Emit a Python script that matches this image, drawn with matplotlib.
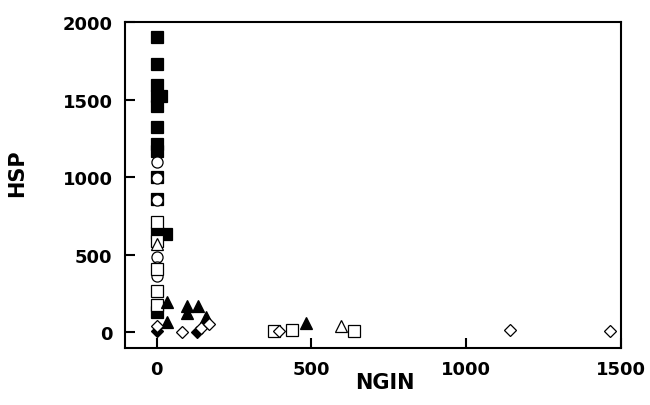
import matplotlib
matplotlib.use("Agg")
import matplotlib.pyplot as plt

# --- data ---
fsq_x = [0, 0, 0, 14, 0, 0, 0, 0, 0, 0, 0, 0, 31, 0]
fsq_y = [1901, 1729, 1594, 1524, 1524, 1460, 1321, 1213, 1170, 1000, 860, 640, 633, 129]

ocirc_x = [0, 0, 0, 0, 0, 0]
ocirc_y = [1095, 992, 855, 483, 419, 365]

osq_x = [0, 0, 0, 0, 0, 378, 438, 637]
osq_y = [709, 590, 410, 268, 176, 10, 17, 10]

otri_x = [0, 597]
otri_y = [570, 43]

ftri_x = [33, 98, 135, 98, 160, 33, 484]
ftri_y = [197, 168, 168, 124, 97, 64, 60]

fdia_x = [0, 130]
fdia_y = [6, 0]

odia_x = [0, 82, 144, 168, 394, 1143, 1463]
odia_y = [40, 0, 26, 53, 10, 17, 6]

x_ticks = [0, 500, 1000, 1500]
y_ticks = [0, 500, 1000, 1500, 2000]

plt.rcParams['font.family'] = ['DejaVu Sans']
fig = plt.figure(figsize=(6.5, 4.06), dpi=100)
ax = fig.add_axes([0.1923, 0.1404, 0.7631, 0.8029])

ms = 8
lw = 0.9
ax.plot(fsq_x, fsq_y, 's', ms=ms, mfc='black', mec='black', mew=lw, ls='none')
ax.plot(ocirc_x, ocirc_y, 'o', ms=ms, mfc='white', mec='black', mew=lw, ls='none')
ax.plot(osq_x, osq_y, 's', ms=ms, mfc='white', mec='black', mew=lw, ls='none')
ax.plot(otri_x, otri_y, '^', ms=ms + 1, mfc='white', mec='black', mew=lw, ls='none')
ax.plot(ftri_x, ftri_y, '^', ms=ms + 1, mfc='black', mec='black', mew=lw, ls='none')
ax.plot(fdia_x, fdia_y, 'D', ms=ms - 1.5, mfc='black', mec='black', mew=lw, ls='none')
ax.plot(odia_x, odia_y, 'D', ms=ms - 1.5, mfc='white', mec='black', mew=lw, ls='none')

ax.set_xlim(-102, 1500)
ax.set_ylim(-101, 2000)
ax.set_xticks(x_ticks)
ax.set_yticks(y_ticks)
ax.set_xticklabels([str(t) for t in x_ticks], fontsize=13, fontweight='bold')
ax.set_yticklabels([str(t) for t in y_ticks], fontsize=13, fontweight='bold')
ax.tick_params(direction='in', length=7, width=1.5, top=False, right=False)
ax.tick_params(axis='y', pad=9)
ax.tick_params(axis='x', pad=9)
for s in ax.spines.values():
    s.set_linewidth(1.5)

ax.set_xlabel('NGIN', fontsize=15, fontweight='bold')
ax.set_ylabel('HSP', fontsize=15, fontweight='bold')
ax.xaxis.set_label_coords(0.524, -0.075)
ax.yaxis.set_label_coords(-0.197, 0.54)

fig.savefig('out.png', dpi=100)
